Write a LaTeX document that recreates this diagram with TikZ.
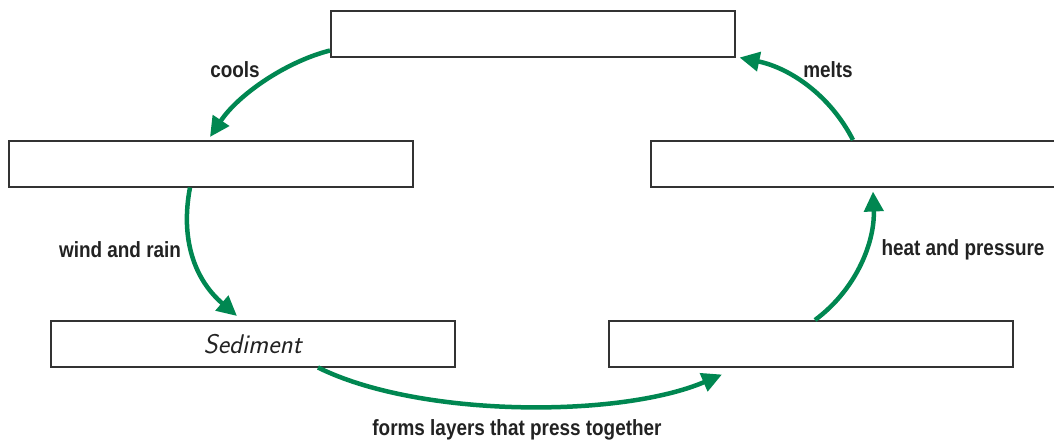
\documentclass[tikz,border=0pt]{standalone}
\usepackage{fontspec}
\setmainfont{Liberation Sans}
\newfontfamily\lblfont[FakeStretch=0.86]{Liberation Sans Bold}
\usetikzlibrary{arrows.meta}
\definecolor{arrowgreen}{HTML}{008751}
\definecolor{boxgray}{HTML}{333333}
\definecolor{txtgray}{HTML}{222222}
\tikzset{
  rockbox/.style={draw=boxgray, line width=1.5pt, fill=white, minimum width=404pt, minimum height=46pt, inner sep=0pt},
  cyc/.style={draw=arrowgreen, line width=4.5pt, -{Triangle[length=20pt,width=19pt]}},
  lbl/.style={font=\lblfont\fontsize{22}{26}\selectfont, text=txtgray, inner sep=0pt},
  hand/.style={font=\sffamily\slshape\fontsize{27}{30}\selectfont, text=txtgray}
}
\begin{document}
\begin{tikzpicture}[x=1pt,y=-1pt]
\useasboundingbox (0,0) rectangle (1054,442);
\node[rockbox, anchor=north west] (top) at (330,10) {};
\node[rockbox, anchor=north west] (left) at (8,140) {};
\node[rockbox, anchor=north west] (right) at (650,140) {};
\node[rockbox, anchor=north west] (bl) at (50,320) {};
\node[rockbox, anchor=north west] (br) at (608,320) {};
\node[hand] (sed) at (bl.center) {Sediment};
\coordinate (a1s) at ([yshift=7pt]top.south west);
\coordinate (a1e) at ([xshift=202pt,yshift=3pt]left.north west);
\coordinate (a2s) at ([xshift=182pt]left.south west);
\coordinate (a2e) at ([xshift=187pt,yshift=4pt]bl.north west);
\coordinate (a3s) at ([xshift=268pt]bl.south west);
\coordinate (a3e) at ([xshift=114pt,yshift=-7pt]br.south west);
\coordinate (a4s) at ([xshift=207pt]br.north west);
\coordinate (a4e) at ([xshift=223pt,yshift=-4pt]right.south west);
\coordinate (a5s) at ([xshift=203pt]right.north west);
\coordinate (a5e) at ([xshift=4pt]top.south east);
\draw[cyc] (a1s) .. controls (285,62) and (238,95) .. (a1e);
\draw[cyc] (a2s) .. controls (180,240) and (195,280) .. (a2e);
\draw[cyc] (a3s) .. controls (420,418) and (620,418) .. (a3e);
\draw[cyc] (a4s) .. controls (858,288) and (875,240) .. (a4e);
\draw[cyc] (a5s) .. controls (830,95) and (790,68) .. (a5e);
\node[lbl] (l1) at (235,70) {cools};
\node[lbl] (l2) at (120,250) {wind and rain};
\node[lbl] (l3) at (828,70) {melts};
\node[lbl] (l4) at (963,250) {heat and pressure};
\node[lbl] (l5) at (517,430) {forms layers that press together};
\end{tikzpicture}
\end{document}
